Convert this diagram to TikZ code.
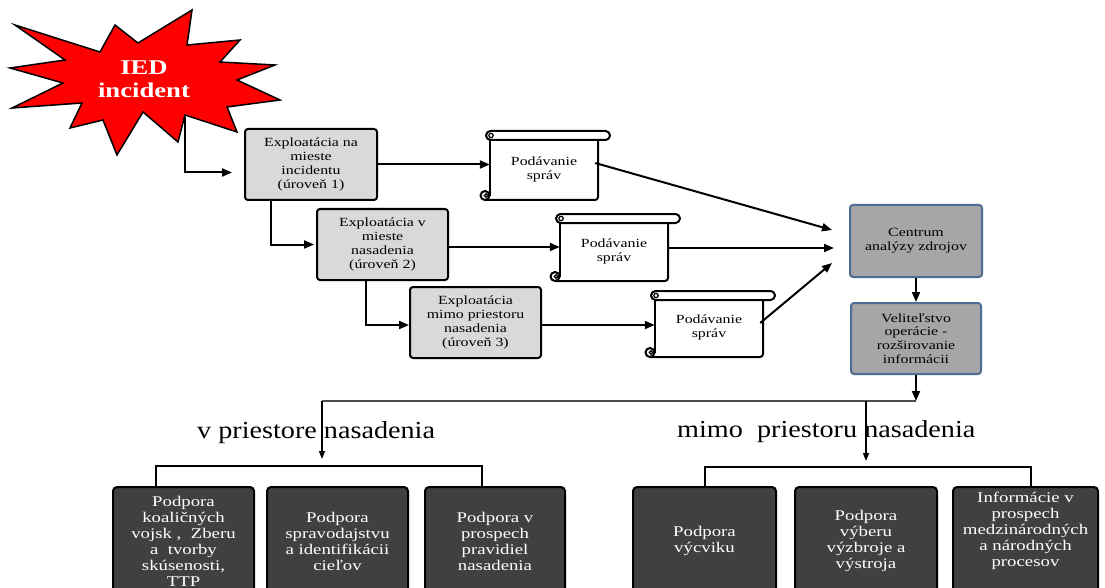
\documentclass[tikz,border=0pt]{standalone}
\usepackage{fontspec}
\setmainfont[FakeStretch=1.27]{Liberation Serif}
\newfontfamily\bigfont[FakeStretch=1.15]{Liberation Serif}
\usetikzlibrary{arrows.meta,calc}
\definecolor{lgray}{HTML}{D9D9D9}
\definecolor{mgray}{HTML}{A6A6A6}
\definecolor{dgray}{HTML}{404040}
\definecolor{bluegray}{HTML}{4F6D94}
\definecolor{starred}{HTML}{FF0000}
\newcommand\drawscroll[4]{%
  \fill[white] (#1,{#2+5}) rectangle (#3,#4);
  \draw[scl] (#1,{#2+5}) -- (#1,{#4-4});
  \draw[scl,rounded corners=3pt] ({#1-5},#4) -- (#3,#4) -- (#3,{#2+5});
  \draw[scl,fill=white,rounded corners=4.5pt] ({#1-4},#2) rectangle ({#3+12},{#2+9});
  \draw[scl,fill=white] ({#1-5},{#4-4.5}) circle (4.5pt);
  \draw[line width=1.2pt] ({#1-4},{#4-4.5}) circle (1.8pt);
  \draw[line width=1.2pt] ({#1+1},{#2+4.5}) circle (2.2pt);
}
\begin{document}
\begin{tikzpicture}[x=1pt,y=-1pt,
  scl/.style={line width=2pt,line join=round},
  lbox/.style={draw,line width=2pt,fill=lgray,rounded corners=3pt,align=center,
    inner sep=0pt,font=\fontsize{12.5}{13.8}\selectfont},
  gbox/.style={draw=bluegray,line width=2pt,fill=mgray,rounded corners=3pt,align=center,
    inner sep=0pt,font=\fontsize{12.5}{13.8}\selectfont},
  dbox/.style={draw,line width=2pt,fill=dgray,rounded corners=4pt,align=center,
    inner sep=0pt,text=white,font=\fontsize{14.8}{16}\selectfont,
    minimum height=108pt},
  stxt/.style={align=center,inner sep=0pt,font=\fontsize{12.5}{14}\selectfont},
  bigl/.style={inner sep=0pt,font=\bigfont\fontsize{24.5}{26}\selectfont},
  arr/.style={line width=2pt,-{Triangle[length=10pt,width=8pt]}},
  arr2/.style={line width=1.5pt,-{Triangle[length=8pt,width=6pt]}},
  brk/.style={line width=2pt},
  hln/.style={line width=1.5pt,draw=black!70}]
\fill[white] (0,0) rectangle (1105,588);
\useasboundingbox (0,0) rectangle (1105,588);
\clip (0,0) rectangle (1105,588);

% star
\draw[fill=starred,line width=1.5pt,line join=miter]
  (15,25) -- (100,52) -- (115,25) -- (138,43) -- (192,10) -- (187,45) --
  (240,40) -- (220,62) -- (275,65) -- (237,80) -- (280,100) -- (227,107) --
  (237,132) -- (185,115) -- (178,142) -- (143,112) -- (117,155) -- (103,120) --
  (70,128) -- (82,103) -- (12,108) -- (63,83) -- (10,68) -- (65,60) -- cycle;
\node[align=center,inner sep=0pt,text=white,font=\bfseries\fontsize{21}{23}\selectfont]
  (star) at (144,79) {IED\\incident};
\coordinate (sb) at (185,117);

% exploitation boxes
\node[lbox,minimum width=132pt,minimum height=71pt] (b1) at (311,164.5)
  {Exploatácia na\\mieste\\incidentu\\(úroveň 1)};
\node[lbox,minimum width=131pt,minimum height=71pt] (b2) at (382.5,244.5)
  {Exploatácia v\\mieste\\nasadenia\\(úroveň 2)};
\node[lbox,minimum width=131pt,minimum height=71pt] (b3) at (475.5,322.5)
  {Exploatácia\\mimo priestoru\\nasadenia\\(úroveň 3)};

% scrolls
\drawscroll{490}{131}{598}{200}
\drawscroll{560}{214}{668}{281}
\drawscroll{655}{291}{763}{357}
\node[stxt,minimum width=108pt,minimum height=60pt] (s1) at (544,169) {Podávanie\\správ};
\node[stxt,minimum width=108pt,minimum height=59pt] (s2) at (614,251) {Podávanie\\správ};
\node[stxt,minimum width=108pt,minimum height=58pt] (s3) at (709,327) {Podávanie\\správ};

% analysis
\node[gbox,minimum width=132pt,minimum height=72pt] (c) at (916,241)
  {Centrum\\analýzy zdrojov};
\node[gbox,minimum width=130pt,minimum height=71pt] (v) at (916,338.5)
  {Veliteľstvo\\operácie -\\rozširovanie\\informácii};

% connectors top
\draw[arr,shorten >=12pt] (sb) |- ([yshift=-8pt]b1.west);
\draw[arr,shorten >=2pt] ([xshift=27pt]b1.south west) |- (b2.west);
\draw[arr] ([xshift=50pt]b2.south west) |- ([yshift=-2.5pt]b3.west);
\draw[arr] (b1.east) -- (b1.east -| s1.west);
\draw[arr] ([yshift=-2.5pt]b2.east) -- ([yshift=-2.5pt]b2.east -| s2.west);
\draw[arr] ([yshift=-2.5pt]b3.east) -- ([yshift=-2.5pt]b3.east -| s3.west);
\draw[arr] ([yshift=6pt,xshift=-3pt]s1.east) -- ($(c.west)+(-17,-11)$);
\draw[arr] ([yshift=3pt]s2.east) -- ($(c.west)+(-15,7)$);
\draw[arr] ([yshift=4pt,xshift=-3pt]s3.east) -- ($(c.west)+(-17,22)$);
\draw[arr] (c.south) -- (v.north);

% distribution
\coordinate (hr) at (916,401);
\coordinate (hl) at (322,401);
\coordinate (hm) at (866,401);
\coordinate (tl) at (322,459);
\coordinate (tm) at (866,461);
\draw[arr] (v.south) -- (hr);
\draw[hln] (hl) -- (hr);
\node[bigl,anchor=base west] (lab1) at (197,438) {v priestore nasadenia};
\node[bigl,anchor=base west] (lab2) at (677,437) {mimo\ \ priestoru nasadenia};
\draw[arr2] (hl) -- (tl);
\draw[arr2] (hm) -- (tm);

% bottom boxes
\node[dbox,minimum width=141pt] (bA) at (183.5,541)
  {Podpora\\koaličných\\vojsk ,\ \ Zberu\\a\ \ tvorby\\skúsenosti,\\TTP};
\node[dbox,minimum width=141pt] (bB) at (337.5,541)
  {Podpora\\spravodajstvu\\a identifikácii\\cieľov};
\node[dbox,minimum width=140pt] (bC) at (495,541)
  {Podpora v\\prospech\\pravidiel\\nasadenia};
\node[dbox,minimum width=143pt] (bD) at (704.5,541)
  {Podpora\\výcviku};
\node[dbox,minimum width=142pt] (bE) at (866,541)
  {Podpora\\výberu\\výzbroje a\\výstroja};
\node[dbox,minimum width=145pt] (bF) at (1025.5,541)
  {Informácie v\\prospech\\medzinárodných\\a národných\\procesov\\[8pt]};

\draw[brk] ([xshift=44pt]bA.north west) -- ++(0,-20) -| ([xshift=58pt]bC.north west);
\draw[brk] ([xshift=73pt]bD.north west) -- ++(0,-19) -| ([xshift=79pt]bF.north west);
\end{tikzpicture}
\end{document}
